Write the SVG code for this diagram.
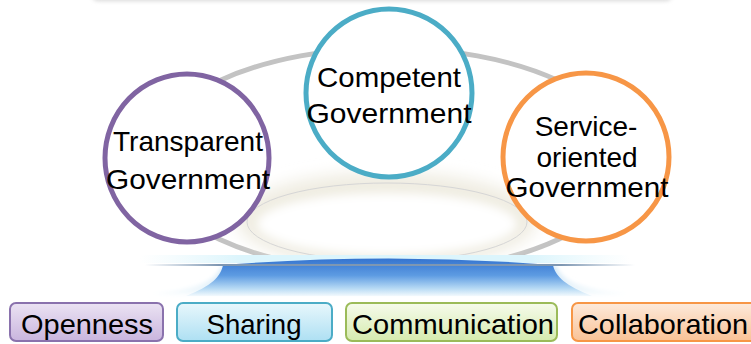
<svg xmlns="http://www.w3.org/2000/svg" width="751" height="344" viewBox="0 0 751 344">
<defs>
<style>
.t{font-family:"Liberation Sans",Arial,sans-serif;font-size:28px;fill:#000;text-anchor:middle}
.c{fill:#fff;stroke-width:5}
.b{stroke-width:2}
</style>
<filter id="sh" x="-10%" y="-100%" width="120%" height="300%"><feGaussianBlur stdDeviation="2"/></filter>
<filter id="blur8" x="-20%" y="-50%" width="140%" height="200%"><feGaussianBlur stdDeviation="8"/></filter>
<filter id="blur5" x="-20%" y="-50%" width="140%" height="200%"><feGaussianBlur stdDeviation="5"/></filter>
<filter id="blur2" x="-20%" y="-50%" width="140%" height="200%"><feGaussianBlur stdDeviation="2"/></filter>
<linearGradient id="line" x1="0" x2="1" y1="0" y2="0">
<stop offset="0" stop-color="#8aa3bd" stop-opacity="0"/>
<stop offset="0.15" stop-color="#7e97b2"/>
<stop offset="0.85" stop-color="#7e97b2"/>
<stop offset="1" stop-color="#8aa3bd" stop-opacity="0"/>
</linearGradient>
<linearGradient id="band" x1="0" x2="1" y1="0" y2="0">
<stop offset="0" stop-color="#e4f7fc" stop-opacity="0"/>
<stop offset="0.2" stop-color="#dcf5fc"/>
<stop offset="0.8" stop-color="#dcf5fc"/>
<stop offset="1" stop-color="#e4f7fc" stop-opacity="0"/>
</linearGradient>
<linearGradient id="flare" x1="0" x2="0" y1="0" y2="1">
<stop offset="0" stop-color="#cfe6f6"/>
<stop offset="1" stop-color="#f4fafd"/>
</linearGradient>
<linearGradient id="blue" x1="0" x2="0" y1="0" y2="1">
<stop offset="0" stop-color="#3574cf"/>
<stop offset="0.45" stop-color="#5d9be2"/>
<stop offset="0.8" stop-color="#b7daf4"/>
<stop offset="1" stop-color="#f2f9fd"/>
</linearGradient>
<linearGradient id="gO" x1="0" x2="0" y1="0" y2="1"><stop offset="0" stop-color="#ebe3f3"/><stop offset="1" stop-color="#c9b5de"/></linearGradient>
<linearGradient id="gS" x1="0" x2="0" y1="0" y2="1"><stop offset="0" stop-color="#e8f7fc"/><stop offset="1" stop-color="#aee0f3"/></linearGradient>
<linearGradient id="gC" x1="0" x2="0" y1="0" y2="1"><stop offset="0" stop-color="#f6fbec"/><stop offset="1" stop-color="#d5ebae"/></linearGradient>
<linearGradient id="gL" x1="0" x2="0" y1="0" y2="1"><stop offset="0" stop-color="#fdeadb"/><stop offset="1" stop-color="#f9c296"/></linearGradient>
</defs>

<g id="background">
<rect x="92" y="-20" width="580" height="21" rx="6" fill="#d8d8d8" filter="url(#sh)"/>
<rect x="92" y="-20" width="580" height="19" rx="6" fill="#fff"/>
<ellipse cx="389" cy="160" rx="240" ry="112" fill="none" stroke="#c3c3c3" stroke-width="5"/>
<ellipse cx="387" cy="220" rx="150" ry="48" fill="#efece1" filter="url(#blur8)"/>
<ellipse cx="387" cy="224" rx="130" ry="31" fill="#fff" filter="url(#blur5)"/>
<ellipse cx="387" cy="222" rx="140" ry="39" fill="none" stroke="#d6d6d6" stroke-width="1"/>
</g>

<g id="platform">
<rect x="140" y="255" width="490" height="8" fill="url(#band)"/>
<path d="M150,294 C200,290 216,280 222,266 L556,266 C562,280 578,290 630,294 Z" fill="url(#flare)" filter="url(#blur2)"/>
<path d="M223,265 Q389,252 553,265 C555,276 566,286 592,296 L186,296 C212,286 221,276 223,265 Z" fill="url(#blue)"/>
<rect x="145" y="264" width="490" height="2" fill="url(#line)"/>
</g>

<g id="transparent">
<ellipse class="c" cx="187" cy="158" rx="82" ry="84" stroke="#8064a2"/>
<text class="t" x="188" y="151">Transparent</text>
<text class="t" x="188" y="189" textLength="164" lengthAdjust="spacingAndGlyphs">Government</text>
</g>
<g id="competent">
<ellipse class="c" cx="389" cy="93" rx="83" ry="84" stroke="#4bacc6"/>
<text class="t" x="389" y="87" textLength="144" lengthAdjust="spacingAndGlyphs">Competent</text>
<text class="t" x="389" y="123" textLength="165" lengthAdjust="spacingAndGlyphs">Government</text>
</g>
<g id="service">
<ellipse class="c" cx="586" cy="157" rx="83" ry="84" stroke="#f79646"/>
<text class="t" x="586" y="136">Service-</text>
<text class="t" x="587" y="167">oriented</text>
<text class="t" x="587" y="197" textLength="163" lengthAdjust="spacingAndGlyphs">Government</text>
</g>

<g id="openness">
<rect class="b" x="10" y="303" width="153" height="38" rx="6" fill="url(#gO)" stroke="#8a72ad"/>
<text class="t" x="87" y="334" textLength="132" lengthAdjust="spacingAndGlyphs">Openness</text>
</g>
<g id="sharing">
<rect class="b" x="177" y="303" width="155" height="38" rx="6" fill="url(#gS)" stroke="#4bacc6"/>
<text class="t" x="254" y="334" textLength="95" lengthAdjust="spacingAndGlyphs">Sharing</text>
</g>
<g id="communication">
<rect class="b" x="346" y="303" width="211" height="38" rx="6" fill="url(#gC)" stroke="#9bbb59"/>
<text class="t" x="453" y="334" textLength="202" lengthAdjust="spacingAndGlyphs">Communication</text>
</g>
<g id="collaboration">
<rect class="b" x="572" y="303" width="190" height="38" rx="6" fill="url(#gL)" stroke="#f79646"/>
<text class="t" x="663" y="334" textLength="170" lengthAdjust="spacingAndGlyphs">Collaboration</text>
</g>
</svg>
